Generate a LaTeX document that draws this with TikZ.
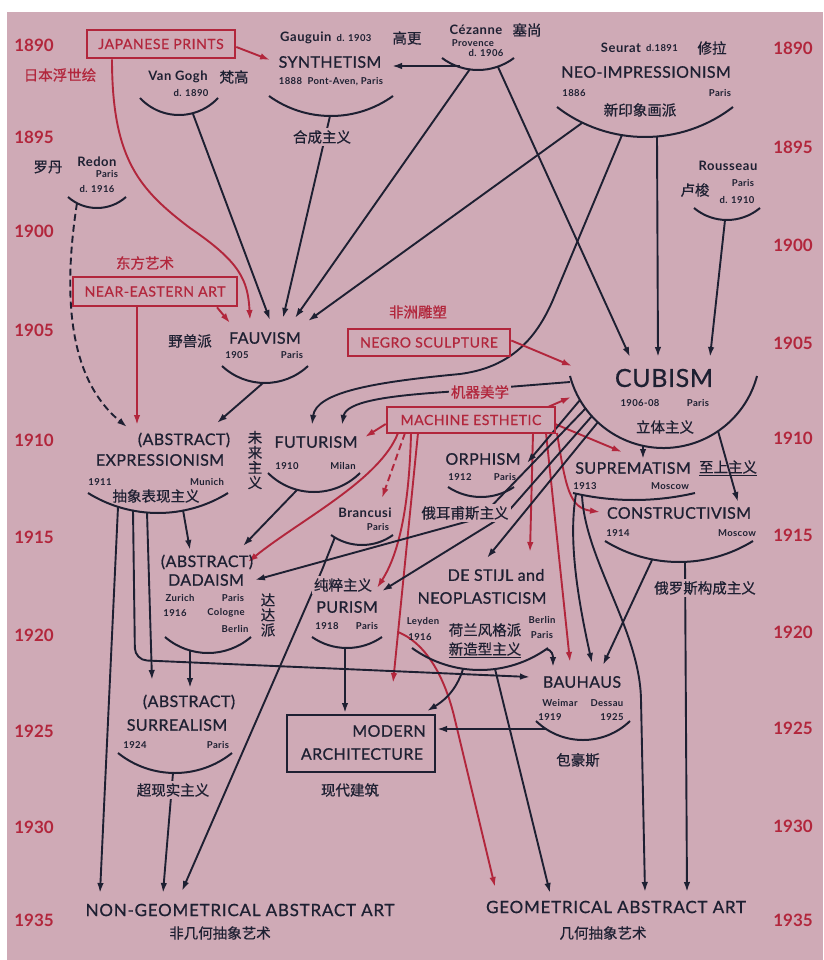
\documentclass[tikz,border=0pt]{standalone}
\usepackage{fontspec}
\setmainfont{Lato}
\newfontfamily\mvf[FakeBold=0.7,LetterSpace=2.5]{Lato}
\newfontfamily\boxf[FakeBold=0.6,LetterSpace=4]{Lato}
\newfontfamily\ttlf[FakeBold=0.7,LetterSpace=4.5]{Lato}
\newfontfamily\smf[LetterSpace=4]{Lato}
\newfontfamily\cjk[FakeBold=0.6]{Noto Sans CJK SC}
\usetikzlibrary{arrows.meta}
\definecolor{bgc}{RGB}{207,170,182}
\definecolor{ink}{RGB}{30,32,50}
\definecolor{rd}{RGB}{178,38,60}
\pgfdeclarelayer{back}\pgfdeclarelayer{lines}\pgfsetlayers{back,lines,main}
\newcommand\bowl[4]{%
  \pgfmathsetmacro\bowlR{(#3*#3+#4*#4)/(2*#4)}%
  \pgfmathsetmacro\bowlA{asin(#3/\bowlR)}%
  \draw[arcl] ({#1-#3},{#2}) arc[start angle={270-\bowlA}, end angle={270+\bowlA}, radius=\bowlR pt];}
\begin{document}
\begin{tikzpicture}[x=1pt,y=-1pt,
  lnk/.style={draw=ink,line width=1.9pt},
  arw/.style={lnk,-{Latex[length=10pt,width=6.5pt]}},
  rlnk/.style={draw=rd,line width=1.9pt},
  rarw/.style={rlnk,-{Latex[length=10pt,width=6.5pt]}},
  arcl/.style={draw=ink,line width=2pt},
  mv/.style={text=ink,inner sep=0pt,font=\mvf\fontsize{16}{16}\selectfont},
  big/.style={text=ink,inner sep=0pt,font=\mvf\fontsize{25}{25}\selectfont},
  sm/.style={text=ink,inner sep=0pt,font=\smf\bfseries\fontsize{9.5}{9.5}\selectfont},
  nm/.style={text=ink,inner sep=0pt,font=\smf\bfseries\fontsize{13}{13}\selectfont},
  zh/.style={text=ink,inner sep=1pt,font=\cjk\fontsize{14.5}{15}\selectfont},
  zhb/.style={zh,fill=bgc,inner sep=2pt},
  zhr/.style={zh,text=rd},
  yr/.style={text=rd,inner sep=0pt,font=\bfseries\fontsize{17}{17}\selectfont},
  rbox/.style={draw=rd,line width=2.6pt,text=rd,inner sep=0pt,font=\boxf\fontsize{14}{14}\selectfont},
  kbox/.style={draw=ink,line width=2.6pt,inner sep=0pt},
  ttl/.style={text=ink,inner sep=0pt,font=\ttlf\fontsize{17}{17}\selectfont}]
\useasboundingbox (0,0) rectangle (823,960);
\begin{pgfonlayer}{back}
\fill[white] (0,0) rectangle (823,960);
\fill[bgc] (7,12) rectangle (823,960);
\end{pgfonlayer}

% years
\foreach \yy/\ly/\ry in {1890/45/48,1895/137/147,1900/231/245,1905/330/343,1910/440/438,1915/537/535,1920/635/632,1925/731/728,1930/827/826,1935/920/920}{
  \node[yr] (yl\yy) at (34,\ly) {\yy};
  \node[yr] (yr\yy) at (793,\ry) {\yy};}

% boxes
\node[rbox,minimum width=148pt,minimum height=28pt] (jp) at (161,44) {JAPANESE PRINTS};
\node[zhr] (jpz) at (60,75) {日本浮世绘};
\node[rbox,minimum width=164pt,minimum height=29pt] (ne) at (155,291.5) {NEAR-EASTERN ART};
\node[zhr] (nez) at (145,263) {东方艺术};
\node[rbox,minimum width=162pt,minimum height=27pt] (ns) at (429,342.5) {NEGRO SCULPTURE};
\node[zhr] (nsz) at (418,312) {非洲雕塑};
\node[rbox,minimum width=168pt,minimum height=26pt] (me) at (471,420) {MACHINE ESTHETIC};
\node[zhr,fill=bgc,inner sep=2pt] (mez) at (480,392) {机器美学};
\node[kbox,minimum width=148pt,minimum height=57pt] (ma) at (361,743.5) {};
\node[mv] (ma1) at (389,731) {MODERN};
\node[mv] (ma2) at (362,754) {ARCHITECTURE};
\node[zh] (maz) at (350,790) {现代建筑};

% Gauguin / Synthetism
\node[nm,anchor=west] (gau) at (280,38) {Gauguin};
\node[sm] (gaud) at (354,38) {d. 1903};
\node[zh] (gauz) at (407,38) {高更};
\node[mv] (syn) at (330,62) {SYNTHETISM};
\node[sm] (syns) at (331,82) {1888\ \ Pont-Aven, Paris};
\bowl{331}{96}{62}{20}
\node[zhb] (synz) at (322,137) {合成主义};

% Van Gogh
\node[nm] (vg) at (178,77) {Van Gogh};
\node[zh] (vgz) at (234,77) {梵高};
\node[sm] (vgd) at (191,93) {d. 1890};
\bowl{179}{98}{39}{17}

% Cezanne
\node[nm] (cez) at (476,30) {Cézanne};
\node[zh] (cezz) at (527,30) {塞尚};
\node[sm] (cezp) at (473,43) {Provence};
\node[sm] (cezd) at (486,53) {d. 1906};
\bowl{478}{58}{36}{12}

% Seurat / Neo-impressionism
\node[nm] (seu) at (621,48) {Seurat};
\node[sm] (seud) at (662,48) {d.1891};
\node[zh] (seuz) at (712,48) {修拉};
\node[mv] (neo) at (646,72) {NEO-IMPRESSIONISM};
\node[sm] (neoy) at (574,93) {1886};
\node[sm] (neop) at (720,93) {Paris};
\node[zh] (neoz) at (640,110) {新印象画派};
\bowl{645}{107}{88}{30}

% Rousseau
\node[nm] (rou) at (728,166) {Rousseau};
\node[sm] (roup) at (743,183) {Paris};
\node[sm] (roud) at (737,200) {d. 1910};
\node[zh] (rouz) at (695,190) {卢梭};
\bowl{727}{208}{33}{12}

% Redon
\node[zh] (redz) at (48,167) {罗丹};
\node[nm] (red) at (97,162) {Redon};
\node[sm] (redp) at (107,174) {Paris};
\node[sm] (redd) at (97,189) {d. 1916};
\bowl{97}{197}{29}{11}

% Fauvism
\node[mv] (fau) at (265,338) {FAUVISM};
\node[sm] (fauy) at (237,355) {1905};
\node[sm] (faup) at (292,355) {Paris};
\node[zh] (fauz) at (190,341) {野兽派};
\bowl{265}{366}{43}{17}

% Cubism
\node[big] (cub) at (664,378) {CUBISM};
\node[sm] (cuby) at (640,403) {1906-08};
\node[sm] (cubp) at (698,403) {Paris};
\node[zh] (cubz) at (665,427) {立体主义};
\bowl{663.5}{376}{93.5}{72}

% Futurism
\node[mv] (fut) at (316,442) {FUTURISM};
\node[sm] (futy) at (287,466) {1910};
\node[sm] (futp) at (343,466) {Milan};
\node[zh,align=center] (futz) at (255,460) {未\\来\\主\\义};
\bowl{314}{473}{46}{19}

% Expressionism
\node[mv] (exa) at (184,440) {(ABSTRACT)};
\node[mv] (exp) at (160,460) {EXPRESSIONISM};
\node[sm] (expy) at (100,482) {1911};
\node[sm] (expp) at (207,482) {Munich};
\node[zh] (expz) at (156,496) {抽象表现主义};
\bowl{158}{493}{70}{20}

% Dadaism
\node[mv] (daa) at (207,562) {(ABSTRACT)};
\node[mv] (dad) at (206,580) {DADAISM};
\node[sm] (dad1) at (180,598) {Zurich};
\node[sm] (dad2) at (233,598) {Paris};
\node[sm] (dad3) at (175,613) {1916};
\node[sm] (dad4) at (226,613) {Cologne};
\node[sm] (dad5) at (235,629) {Berlin};
\node[zh,align=center] (dadz) at (268,615) {达\\达\\派};
\bowl{208}{637}{43}{16}

% Surrealism
\node[mv] (sua) at (189,702) {(ABSTRACT)};
\node[mv] (sur) at (177,725) {SURREALISM};
\node[sm] (sury) at (135,745) {1924};
\node[sm] (surp) at (218,745) {Paris};
\node[zhb] (surz) at (173,790) {超现实主义};
\bowl{175}{753}{57}{20}

% Orphism
\node[mv] (orp) at (483,459) {ORPHISM};
\node[sm] (orpy) at (460,477) {1912};
\node[sm] (orpp) at (505,477) {Paris};
\node[zhb] (orpz) at (465,513) {俄耳甫斯主义};
\bowl{481}{487}{33}{10}

% Brancusi
\node[nm] (bra) at (365,513) {Brancusi};
\node[sm] (brap) at (378,527) {Paris};
\bowl{362}{535}{31}{10}

% Purism
\node[zhb] (purz) at (343,585) {纯粹主义};
\node[mv] (pur) at (347,607) {PURISM};
\node[sm] (pury) at (327,626) {1918};
\node[sm] (purp) at (367,626) {Paris};
\bowl{347}{637}{35}{11}

% De Stijl
\node[mv] (ds1) at (496,575) {DE STIJL and};
\node[mv] (ds2) at (482,598) {NEOPLASTICISM};
\node[sm] (dsl) at (423,622) {Leyden};
\node[sm] (dsy) at (420,637) {1916};
\node[sm] (dsb) at (542,620) {Berlin};
\node[sm] (dsp) at (542,635) {Paris};
\node[zh] (dsz1) at (485,630) {荷兰风格派};
\node[zh] (dsz2) at (485,650) {\underline{新造型主义}};
\bowl{480}{648}{68}{22}

% Suprematism
\node[mv] (sup) at (633,468) {SUPREMATISM};
\node[zh] (supz) at (728,468) {\underline{至上主义}};
\node[sm] (supy) at (585,486) {1913};
\node[sm] (supp) at (670,486) {Moscow};
\bowl{634}{493}{61}{7}

% Constructivism
\node[mv] (con) at (679,513) {CONSTRUCTIVISM};
\node[sm] (cony) at (618,533) {1914};
\node[sm] (conp) at (737,533) {Moscow};
\node[zhb] (conz) at (705,588) {俄罗斯构成主义};
\bowl{679}{541}{74}{21}

% Bauhaus
\node[mv] (bau) at (582,682) {BAUHAUS};
\node[sm] (bau1) at (560,703) {Weimar};
\node[sm] (bau2) at (607,703) {Dessau};
\node[sm] (bau3) at (550,717) {1919};
\node[sm] (bau4) at (612,717) {1925};
\node[zh] (bauz) at (578,760) {包豪斯};
\bowl{583}{721}{47}{19}

% bottom
\node[ttl] (nga) at (240,910) {NON-GEOMETRICAL\ ABSTRACT\ ART};
\node[zh] (ngz) at (220,933) {非几何抽象艺术};
\node[ttl] (gaa) at (616,907) {GEOMETRICAL\ ABSTRACT\ ART};
\node[zh] (gz) at (603,933) {几何抽象艺术};

% coordinates
\coordinate (vgS) at (193,114); \coordinate (fauT2) at (270,320);
\coordinate (synS) at (330,116); \coordinate (fauT3) at (283,318);
\coordinate (cezS1) at (470,69); \coordinate (fauT4) at (295,318);
\coordinate (cezS2) at (498,67); \coordinate (cubT1) at (630,357);
\coordinate (cezS3) at (460,66); \coordinate (synT) at (392,66);
\coordinate (neoS1) at (582,123); \coordinate (fauT5) at (308,321);
\coordinate (neoS2) at (622,135); \coordinate (futT1) at (312,425);
\coordinate (neoS3) at (657,137); \coordinate (cubT2) at (658,357);
\coordinate (rouS) at (725,220); \coordinate (cubT3) at (710,357);
\coordinate (jpT) at (270,60); \coordinate (fauT1) at (250,320);
\coordinate (expT1) at (137,425); \coordinate (fauT0) at (230,323);
\coordinate (cubTn) at (572,366);
\coordinate (fauS) at (263,383); \coordinate (expT2) at (217,423);
\coordinate (redS) at (77,203); \coordinate (expT0) at (127,427);
\coordinate (cubL) at (570,382); \coordinate (futT2) at (342,425);

\begin{pgfonlayer}{lines}
% into Fauvism / Synthetism / Cubism
\draw[arw] (vgS) -- (fauT2);
\draw[arw] (synS) -- (fauT3);
\draw[arw] (cezS1) -- (fauT4);
\draw[arw] (cezS2) -- (cubT1);
\draw[arw] (cezS3) -- (synT);
\draw[arw] (neoS1) -- (fauT5);
\draw[arw] (neoS3) -- (cubT2);
\draw[arw] (rouS) -- (cubT3);
\draw[arw] (neoS2) -- (555,295) .. controls (535,345) and (505,368) .. (460,374) .. controls (375,382) and (316,392) .. (futT1);
\draw[arw] (cubL) -- (445,392) .. controls (385,396) and (346,402) .. (futT2);
\draw[rarw] ([yshift=-3pt]jp.east) -- (jpT);
\draw[rarw] ([xshift=-49pt]jp.south) .. controls (112,160) and (140,190) .. (190,228) .. controls (240,262) and (248,280) .. (fauT1);
\draw[rarw] ([xshift=-18pt]ne.south) -- (expT1);
\draw[rarw] ([xshift=62pt]ne.south) -- (fauT0);
\draw[rarw] ([yshift=2pt]ns.east) -- (cubTn);
\draw[arw] (fauS) -- (expT2);
\draw[lnk,dash pattern=on 7pt off 4pt,-{Latex[length=10pt,width=6.5pt]}] (redS) .. controls (62,300) and (70,380) .. (expT0);
% Machine esthetic
\draw[rarw] ([yshift=-4pt]me.west) -- (365,437);
\draw[rarw] (548,407) -- (571,397);
\draw[rarw] (555,424) -- (622,452);
\draw[rarw] (557,433) .. controls (566,490) and (570,508) .. (600,512);
\draw[rarw,dash pattern=on 7pt off 4pt] (405,433) -- (382,498);
\draw[rarw] (398,433) .. controls (380,480) and (300,520) .. (248,562);
\draw[rarw] (411,433) .. controls (409,520) and (395,560) .. (377,588);
\draw[rarw] (418,433) -- (393,683);
\draw[rarw] (398,632) .. controls (430,645) and (447,685) .. (455,720) -- (495,887);
\draw[rarw] (533,433) -- (530,552);
\draw[rarw] (546,433) -- (570,662);
% Futurism
\draw[arw] (297,490) -- (243,546);
% Cubism lines
\draw[arw] (580,400) -- (527,463);
\draw[arw] (586,408) -- (480,518) -- (255,580);
\draw[arw] (592,416) -- (505,515) -- (382,591);
\draw[arw] (598,422) -- (487,558);
\draw[arw] (643,446) -- (643,459);
\draw[arw] (718,431) -- (738,502);
% Expressionism
\draw[arw] (118,507) -- (100,893);
\draw[arw,rounded corners=12pt] (133,510) -- (135,660) -- (530,677);
\draw[arw] (147,512) -- (152,680);
\draw[arw] (183,510) -- (190,550);
% Dada, Surrealism
\draw[arw] (190,650) -- (190,688);
\draw[arw] (173,773) -- (163,893);
% Brancusi
\draw[arw] (335,537) -- (322,570) -- (182,891);
% Purism
\draw[arw] (345,648) -- (345,713);
% De Stijl
\draw[arw] (546,649) .. controls (552,650) and (553,655) .. (553,667);
\draw[arw] (463,669) .. controls (456,692) and (442,702) .. (427,711);
\draw[arw] (495,669) -- (550,893);
% Suprematism
\draw[arw] (576,494) .. controls (568,540) and (578,600) .. (592,663);
\draw[arw] (582,495) .. controls (585,560) and (640,630) .. (641,700) -- (645,892);
% Constructivism
\draw[arw] (652,560) -- (603,665);
\draw[arw] (685,562) -- (687,892);
% Bauhaus
\draw[arw] (547,729) -- (437,729);
\end{pgfonlayer}
\end{tikzpicture}
\end{document}
